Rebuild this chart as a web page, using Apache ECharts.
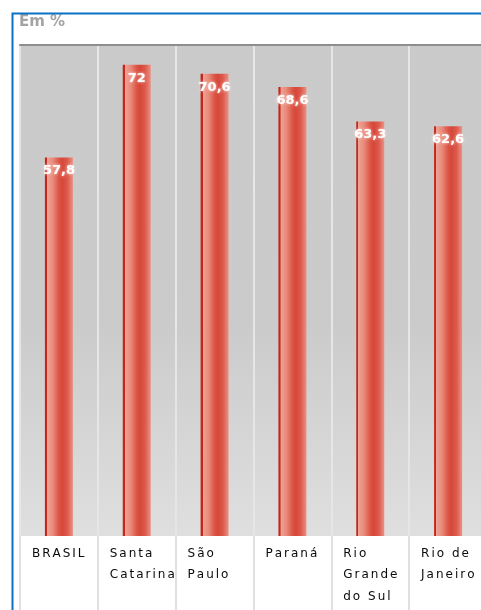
<!DOCTYPE html>
<html>
<head>
<meta charset="utf-8">
<script src="https://cdn.jsdelivr.net/npm/echarts@6/dist/echarts.min.js"></script>
<style>
  html, body { margin: 0; padding: 0; background: #ffffff; }
  #chart { width: 481px; height: 610px; }
</style>
</head>
<body>
<div id="chart"></div>
<script>
// Share of households, by state (%)
const categories = ['BRASIL', 'Santa\nCatarina', 'São\nPaulo', 'Paraná', 'Rio\nGrande\ndo Sul', 'Rio de\nJaneiro'];
const values = [57.8, 72, 70.6, 68.6, 63.3, 62.6];
const unitLabel = 'Em %';

const chart = echarts.init(document.getElementById('chart'), null, { renderer: 'canvas' });

const barGradient = new echarts.graphic.LinearGradient(0, 0, 1, 0, [
  { offset: 0.00, color: '#c1271b' },
  { offset: 0.07, color: '#c1271b' },
  { offset: 0.08, color: '#efa293' },
  { offset: 0.28, color: '#e98a7c' },
  { offset: 0.50, color: '#db5544' },
  { offset: 0.62, color: '#d6473a' },
  { offset: 0.80, color: '#dc5a4c' },
  { offset: 1.00, color: '#eb9184' }
]);

// Spread the category names a little: one token per character with side padding
const spaced = v => v.split('\n')
  .map(line => Array.from(line).map(ch => '{c|' + ch + '}').join(''))
  .join('\n');

chart.setOption({
  animation: false,
  backgroundColor: '#ffffff',
  graphic: [
    {
      type: 'rect',
      left: 10, top: 11,
      shape: { width: 600, height: 700 },
      style: { fill: 'none', stroke: '#0a72c2', lineWidth: 2 },
      z: 10
    },
    {
      type: 'text',
      left: 19, top: 15,
      style: {
        text: unitLabel,
        fill: '#a4a4a4',
        font: 'bold 15px "DejaVu Sans"'
      }
    }
  ],
  grid: {
    left: 20, top: 45, bottom: 74, width: 467,
    outerBoundsMode: 'none',
    containLabel: false,
    show: true,
    borderWidth: 0,
    backgroundColor: new echarts.graphic.LinearGradient(0, 0, 0, 1, [
      { offset: 0, color: '#cacaca' },
      { offset: 0.57, color: '#cbcbcb' },
      { offset: 1, color: '#dfdfdf' }
    ])
  },
  xAxis: [
    {
      type: 'category',
      data: categories,
      position: 'bottom',
      axisLine: { show: false },
      axisTick: {
        show: true,
        alignWithLabel: false,
        length: 74,
        lineStyle: { color: '#e0e0e0', width: 2 }
      },
      splitLine: {
        show: true,
        lineStyle: { color: '#e6e6e6', width: 2 }
      },
      axisLabel: {
        margin: 7,
        interval: 0,
        hideOverlap: false,
        align: 'left',
        verticalAlign: 'top',
        padding: [0, 0, 0, -28],
        lineHeight: 21.5,
        formatter: spaced,
        rich: {
          c: {
            align: 'left',
            padding: [0, 1, 0, 1],
            color: '#0a0a0a',
            fontFamily: 'DejaVu Sans',
            fontSize: 12,
            lineHeight: 21.5
          }
        }
      }
    },
    {
      type: 'category',
      data: categories,
      position: 'top',
      axisLine: { show: true, lineStyle: { color: '#8e8e8e', width: 2 } },
      axisTick: { show: false },
      axisLabel: { show: false }
    }
  ],
  yAxis: {
    type: 'value',
    min: 0,
    max: 75,
    show: false,
    splitLine: { show: false }
  },
  series: [
    {
      type: 'bar',
      data: values,
      barWidth: 28,
      itemStyle: { color: barGradient },
      label: {
        show: true,
        position: 'insideTop',
        distance: 7,
        color: '#ffffff',
        fontFamily: 'DejaVu Sans',
        fontWeight: 'bold',
        fontSize: 13,
        textShadowColor: 'rgba(255,235,230,0.9)',
        textShadowBlur: 3,
        formatter: p => String(p.value).replace('.', ',')
      }
    }
  ]
});
</script>
</body>
</html>
